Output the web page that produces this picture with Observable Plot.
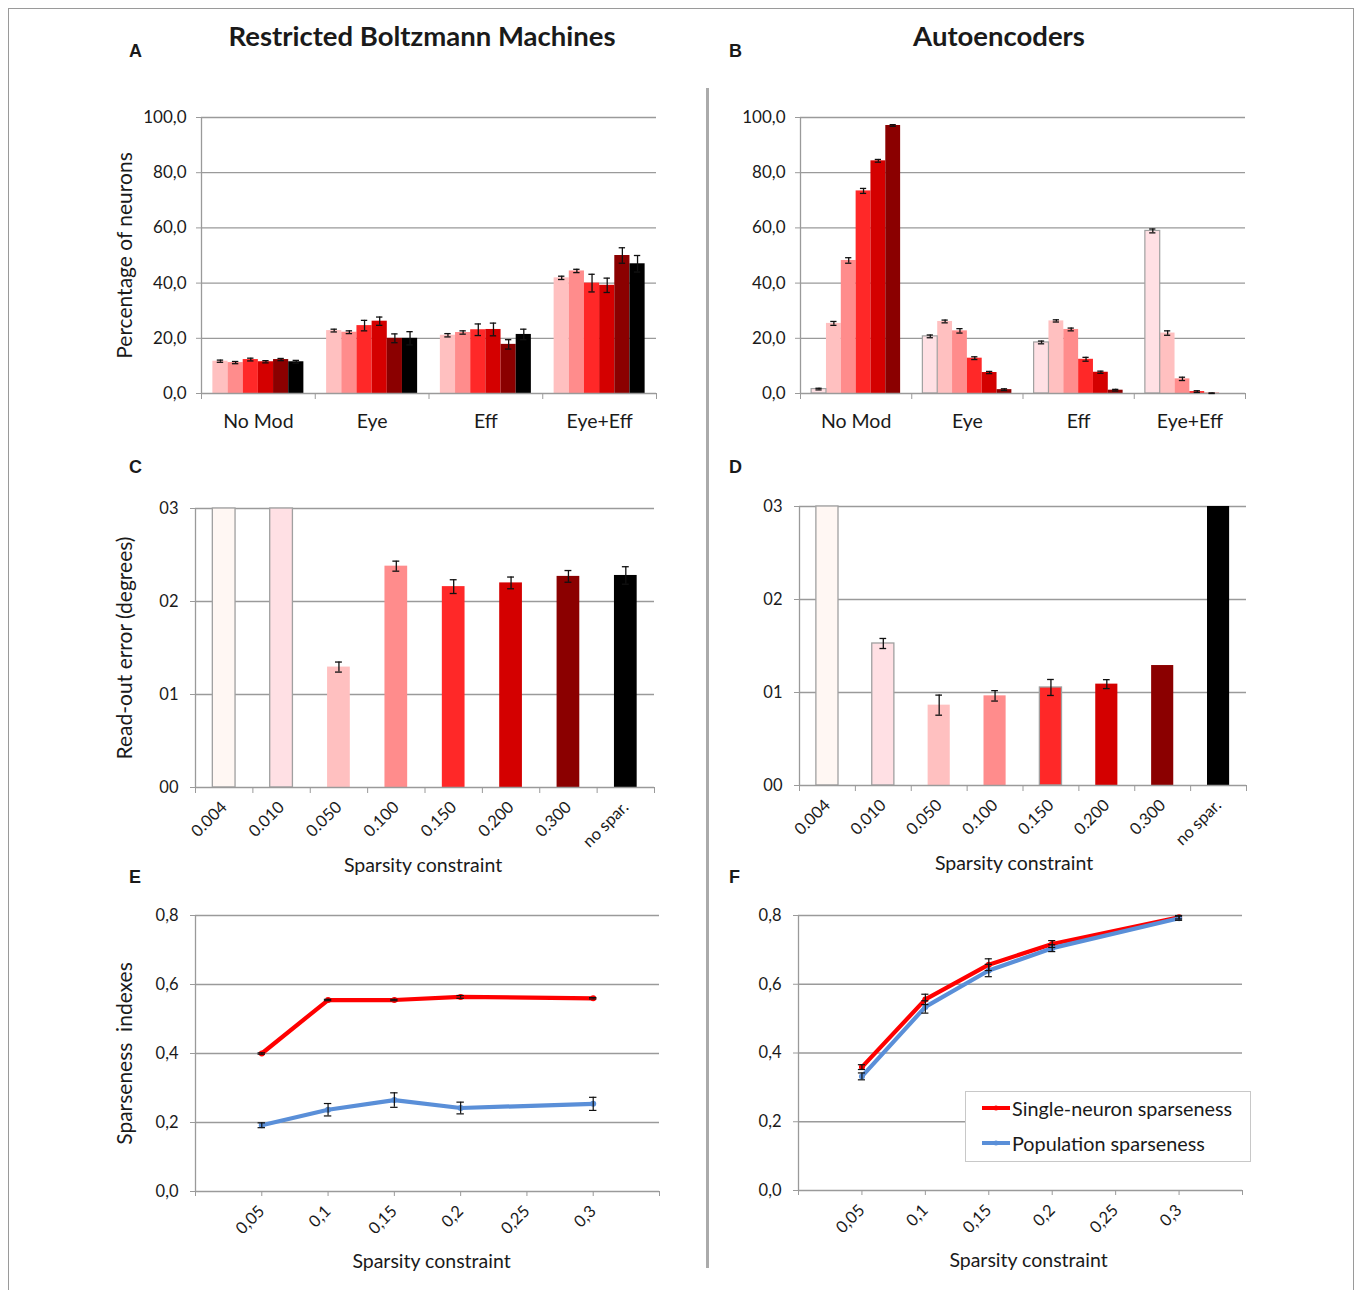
<!DOCTYPE html>
<html><head><meta charset="utf-8">
<script src="https://cdn.jsdelivr.net/npm/d3@7"></script>
<script src="https://cdn.jsdelivr.net/npm/@observablehq/plot@0.6"></script>
<style>
body{margin:0;background:#fff;}
#page{position:relative;width:1360px;height:1290px;overflow:hidden;font-family:Lato,sans-serif;color:#1a1a1a;}
.abs{position:absolute;}
.title{font-weight:700;font-size:27.5px;transform:translateX(-50%);white-space:nowrap;line-height:1;}
.letter{font-family:"Liberation Sans",Arial,sans-serif;font-weight:700;font-size:18px;line-height:1;}
.legend{background:#fff;border:1px solid #c8c8c8;box-sizing:border-box;}
.legrow{position:absolute;left:16px;display:flex;align-items:center;font-size:19.8px;white-space:nowrap;}
</style></head><body><div id="page"></div>
<script>
// ---------- data ----------
const groups = ["No Mod", "Eye", "Eff", "Eye+Eff"];
const sparsity = ["0.004", "0.010", "0.050", "0.100", "0.150", "0.200", "0.300", "no spar."];
const sparsityColors = ["#FFF7F3", "#FFE0E4", "#FFC0C0", "#FF8C8C", "#FF2828", "#D40000", "#8B0000", "#000000"];
const rbmSeries = ["0.050", "0.100", "0.150", "0.200", "0.300", "no spar."];
const aeSeries = ["0.010", "0.050", "0.100", "0.150", "0.200", "0.300"];

// Panel A (RBM): percentage of neurons, per group, one value per series
const rbmNoMod = [11.7, 11.2, 12.3, 11.5, 12.3, 11.5];
const rbmNoModErr = [0.4, 0.4, 0.5, 0.4, 0.4, 0.5];
const rbmEye = [22.8, 22.2, 24.6, 26.2, 20.0, 20.0];
const rbmEyeErr = [0.5, 0.5, 1.9, 1.5, 1.6, 2.4];
const rbmEff = [21.1, 22.1, 23.1, 23.2, 17.8, 21.4];
const rbmEffErr = [0.6, 0.6, 2.1, 2.3, 1.7, 1.9];
const rbmEyeEff = [41.9, 44.4, 40.0, 39.2, 50.0, 47.0];
const rbmEyeEffErr = [0.6, 0.6, 3.2, 2.6, 2.8, 3.0];

// Panel B (Autoencoders)
const aeNoMod = [1.6, 25.4, 48.2, 73.4, 84.3, 97.1];
const aeNoModErr = [0.3, 0.7, 1.0, 0.9, 0.5, 0.3];
const aeEye = [20.7, 26.1, 22.7, 12.8, 7.6, 1.4];
const aeEyeErr = [0.5, 0.5, 0.8, 0.5, 0.4, 0.3];
const aeEff = [18.5, 26.3, 23.2, 12.4, 7.7, 1.2];
const aeEffErr = [0.5, 0.4, 0.5, 0.7, 0.4, 0.3];
const aeEyeEff = [58.9, 21.9, 5.3, 0.7, 0.1, 0.0];
const aeEyeEffErr = [0.7, 0.8, 0.6, 0.3, 0.1, 0.0];

// Panels C and D: read-out error (degrees), 0.004 / 0.010 / no spar. bars run off the top of the axis
const rbmReadout = [3.0, 3.0, 1.295, 2.38, 2.16, 2.20, 2.27, 2.28];
const rbmReadoutErr = [0, 0, 0.054, 0.054, 0.074, 0.063, 0.063, 0.094];
const aeReadout = [3.0, 1.527, 0.864, 0.964, 1.054, 1.09, 1.29, 3.0];
const aeReadoutErr = [0, 0.054, 0.108, 0.056, 0.086, 0.048, 0, 0];
const rbmOutlined = ["0.004", "0.010"];
const aeOutlined = ["0.004", "0.010", "0.150"];

// Panels E and F: sparseness indexes
const sparsityX = [0.05, 0.1, 0.15, 0.2, 0.3];
const sparsityTicks = [0.05, 0.1, 0.15, 0.2, 0.25, 0.3];
const rbmSingle = [0.400, 0.555, 0.555, 0.564, 0.560];
const rbmSingleErr = [0.002, 0.002, 0.002, 0.004, 0.002];
const rbmPopulation = [0.192, 0.237, 0.265, 0.242, 0.254];
const rbmPopulationErr = [0.007, 0.018, 0.021, 0.017, 0.019];
const aeSingle = [0.359, 0.556, 0.657, 0.717, 0.795];
const aeSingleErr = [0.007, 0.015, 0.017, 0.010, 0.005];
const aePopulation = [0.332, 0.534, 0.640, 0.705, 0.792];
const aePopulationErr = [0.010, 0.018, 0.018, 0.010, 0.006];

const singleColor = "#FF0000";
const populationColor = "#5A8FD8";

// ---------- layout helpers ----------
const page = document.getElementById("page");
function place(el, left, top) {
  el.style.position = "absolute"; el.style.left = left + "px"; el.style.top = top + "px";
  page.appendChild(el); return el;
}
function html(cls, text, left, top) {
  const d = document.createElement("div"); d.className = cls; d.textContent = text;
  return place(d, left, top);
}
const GRID = "#9a9a9a";
const baseStyle = {fontFamily: "Lato, sans-serif", color: "#1a1a1a", background: "transparent", overflow: "visible"};
const comma = (d, n) => d.toFixed(n).replace(".", ",");
const colorOf = s => sparsityColors[sparsity.indexOf(s)];
const yTitle = (label, dx) => Plot.text([label], {frameAnchor: "left", textAnchor: "middle", lineAnchor: "middle", rotate: -90, dx, fontSize: 21});
const xTitle = (dy, dx) => Plot.text(["Sparsity constraint"], {frameAnchor: "bottom", textAnchor: "middle", lineAnchor: "middle", dy, dx, fontSize: 19.5});

// grouped bars (panels A and B)
const PAD = 0.1, BW = 0.8 / 6;
function groupedPanel(o) {
  const rows = groups.flatMap((g, gi) => o.series.map((s, si) => ({gi, si, s, v: o.values[gi][si], e: o.errors[gi][si]})));
  const x1 = d => d.gi + PAD + d.si * BW, x2 = d => d.gi + PAD + (d.si + 1) * BW, xc = d => d.gi + PAD + (d.si + 0.5) * BW;
  const withErr = rows.filter(d => d.e > 0);
  const cap = 0.028;
  const marks = [
    Plot.ruleY(d3.range(20, 101, 20), {stroke: GRID, strokeWidth: 1.3}),
    Plot.rect(rows, {x1, x2, y1: 0, y2: "v", fill: "s"}),
    Plot.rect(rows.filter(d => o.outlined.includes(d.s)), {x1, x2, y1: 0, y2: "v", fill: "none", stroke: "#a0a0a0", strokeWidth: 1.2}),
    Plot.ruleY([0], {stroke: GRID, strokeWidth: 1.3}),
    Plot.ruleX([0], {stroke: GRID, strokeWidth: 1.3}),
    Plot.ruleX(withErr, {x: xc, y1: d => d.v - d.e, y2: d => d.v + d.e, stroke: "#111", strokeWidth: 1.3}),
    Plot.ruleY(withErr, {y: d => d.v + d.e, x1: d => xc(d) - cap, x2: d => xc(d) + cap, stroke: "#111", strokeWidth: 1.3}),
    Plot.ruleY(withErr, {y: d => d.v - d.e, x1: d => xc(d) - cap, x2: d => xc(d) + cap, stroke: "#111", strokeWidth: 1.3}),
    Plot.axisY({ticks: d3.range(0, 101, 20), tickFormat: d => comma(d, 1), tickSize: 5, tickPadding: 10, stroke: GRID, fontSize: 17, label: null}),
    Plot.axisX({ticks: [0, 1, 2, 3, 4], tickSize: 6, tickFormat: () => "", stroke: GRID, label: null}),
    Plot.axisX({ticks: [0.5, 1.5, 2.5, 3.5], tickSize: 0, tickPadding: 21, tickFormat: d => groups[Math.floor(d)], fontSize: 19.5, label: null})
  ];
  if (o.yLabel) marks.push(yTitle(o.yLabel, o.yLabelDx));
  const svg = Plot.plot({
    width: o.width, height: o.height,
    marginLeft: o.m[0], marginRight: o.m[1], marginTop: o.m[2], marginBottom: o.m[3],
    x: {domain: [0, 4]}, y: {domain: [0, 100]},
    color: {domain: o.series, range: o.series.map(colorOf)},
    style: baseStyle, marks
  });
  place(svg, o.left, o.top);
}

// single category bars (panels C and D)
function readoutPanel(o) {
  const rows = sparsity.map((s, i) => ({i, s, v: o.values[i], e: o.errors[i]}));
  const half = 0.198;
  const x1 = d => d.i + 0.5 - half, x2 = d => d.i + 0.5 + half, xc = d => d.i + 0.5;
  const withErr = rows.filter(d => d.e > 0);
  const cap = 0.06;
  const marks = [
    Plot.ruleY([1, 2, 3], {stroke: GRID, strokeWidth: 1.3}),
    Plot.rect(rows, {x1, x2, y1: 0, y2: "v", fill: "s", clip: true}),
    Plot.rect(rows.filter(d => o.outlined.includes(d.s)), {x1, x2, y1: 0, y2: "v", fill: "none", stroke: "#a0a0a0", strokeWidth: 1.3}),
    Plot.ruleY([0], {stroke: GRID, strokeWidth: 1.3}),
    Plot.ruleX([0], {stroke: GRID, strokeWidth: 1.3}),
    Plot.ruleX(withErr, {x: xc, y1: d => d.v - d.e, y2: d => d.v + d.e, stroke: "#111", strokeWidth: 1.3}),
    Plot.ruleY(withErr, {y: d => d.v + d.e, x1: d => xc(d) - cap, x2: d => xc(d) + cap, stroke: "#111", strokeWidth: 1.3}),
    Plot.ruleY(withErr, {y: d => d.v - d.e, x1: d => xc(d) - cap, x2: d => xc(d) + cap, stroke: "#111", strokeWidth: 1.3}),
    Plot.axisY({ticks: [0, 1, 2, 3], tickFormat: d => "0" + d, tickSize: 5, tickPadding: 12, stroke: GRID, fontSize: 16.5, label: null}),
    Plot.axisX({ticks: d3.range(0, 9), tickSize: 6, tickFormat: () => "", stroke: GRID, label: null}),
    Plot.axisX({ticks: d3.range(8).map(i => i + 0.5), tickSize: 0, tickPadding: 17, tickRotate: -45, tickFormat: d => sparsity[Math.floor(d)], fontSize: 16.5, label: null}),
    xTitle(78, o.xLabelDx)
  ];
  if (o.yLabel) marks.push(yTitle(o.yLabel, o.yLabelDx));
  const svg = Plot.plot({
    width: o.width, height: o.height,
    marginLeft: o.m[0], marginRight: o.m[1], marginTop: o.m[2], marginBottom: o.m[3],
    x: {domain: [0, 8]}, y: {domain: [0, 3]},
    color: {domain: sparsity, range: sparsityColors},
    style: baseStyle, marks
  });
  place(svg, o.left, o.top);
}

// sparseness lines (panels E and F)
function sparsenessPanel(o) {
  const lines = [
    {name: "single", color: singleColor, v: o.single, e: o.singleErr},
    {name: "population", color: populationColor, v: o.population, e: o.populationErr}
  ];
  const pts = lines.flatMap(l => sparsityX.map((x, i) => ({name: l.name, color: l.color, x, v: l.v[i], e: l.e[i]})));
  const cap = 0.0028;
  const marks = [
    Plot.ruleY([0.2, 0.4, 0.6, 0.8], {stroke: GRID, strokeWidth: 1.3}),
    Plot.ruleY([0], {stroke: GRID, strokeWidth: 1.3}),
    Plot.ruleX([0], {stroke: GRID, strokeWidth: 1.3}),
    Plot.axisY({ticks: [0, 0.2, 0.4, 0.6, 0.8], tickFormat: d => comma(d, 1), tickSize: 5, tickPadding: 12, stroke: GRID, fontSize: 16.5, label: null}),
    Plot.axisX({ticks: d3.range(8).map(i => i * 0.05), tickSize: 5, tickFormat: () => "", stroke: GRID, label: null}),
    Plot.axisX({ticks: sparsityTicks, tickSize: 0, tickPadding: 17, tickRotate: -45, tickFormat: d => String(+d.toFixed(2)).replace(".", ","), fontSize: 16.5, label: null}),
    ...lines.map(l => Plot.line(pts.filter(d => d.name === l.name), {x: "x", y: "v", stroke: l.color, strokeWidth: 4.2, strokeLinejoin: "round"})),
    ...lines.map(l => Plot.dot(pts.filter(d => d.name === l.name), {x: "x", y: "v", r: 3, fill: l.color})),
    Plot.ruleX(pts, {x: "x", y1: d => d.v - d.e, y2: d => d.v + d.e, stroke: "#111", strokeWidth: 1.2}),
    Plot.ruleY(pts, {y: d => d.v + d.e, x1: d => d.x - cap, x2: d => d.x + cap, stroke: "#111", strokeWidth: 1.2}),
    Plot.ruleY(pts, {y: d => d.v - d.e, x1: d => d.x - cap, x2: d => d.x + cap, stroke: "#111", strokeWidth: 1.2}),
    xTitle(70, o.xLabelDx)
  ];
  if (o.yLabel) marks.push(yTitle(o.yLabel, o.yLabelDx));
  const svg = Plot.plot({
    width: o.width, height: o.height,
    marginLeft: o.m[0], marginRight: o.m[1], marginTop: o.m[2], marginBottom: o.m[3],
    x: {domain: [0, 0.35]}, y: {domain: [0, 0.8]},
    style: baseStyle, marks
  });
  place(svg, o.left, o.top);
}

// ---------- frame, separator, titles ----------
const border = document.createElement("div");
border.style.cssText = "width:1346px;height:1300px;border:1px solid #9a9a9a;box-sizing:border-box;";
place(border, 8, 8);
const sep = document.createElement("div");
sep.style.cssText = "width:3px;height:1180px;background:#ababab;";
place(sep, 706, 88);

html("title", "Restricted Boltzmann Machines", 422, 22);
html("title", "Autoencoders", 999, 22);
[["A", 129, 42], ["B", 729, 42], ["C", 129, 458], ["D", 729, 458], ["E", 129, 868], ["F", 729, 868]]
  .forEach(([t, x, y]) => html("letter", t, x, y));

// ---------- panels ----------
groupedPanel({series: rbmSeries, outlined: [],
  values: [rbmNoMod, rbmEye, rbmEff, rbmEyeEff], errors: [rbmNoModErr, rbmEyeErr, rbmEffErr, rbmEyeEffErr],
  left: 100, top: 95, width: 580, height: 350, m: [101, 24, 22, 52],
  yLabel: "Percentage of neurons", yLabelDx: -76});
groupedPanel({series: aeSeries, outlined: ["0.010"],
  values: [aeNoMod, aeEye, aeEff, aeEyeEff], errors: [aeNoModErr, aeEyeErr, aeEffErr, aeEyeEffErr],
  left: 720, top: 95, width: 560, height: 350, m: [80, 35, 22, 52]});

readoutPanel({values: rbmReadout, errors: rbmReadoutErr, outlined: rbmOutlined,
  left: 100, top: 480, width: 580, height: 420, m: [95, 26, 28, 113],
  yLabel: "Read-out error (degrees)", yLabelDx: -70, xLabelDx: -2});
readoutPanel({values: aeReadout, errors: aeReadoutErr, outlined: aeOutlined,
  left: 720, top: 480, width: 560, height: 420, m: [79, 34, 26, 115], xLabelDx: -9});

sparsenessPanel({single: rbmSingle, singleErr: rbmSingleErr, population: rbmPopulation, populationErr: rbmPopulationErr,
  left: 100, top: 890, width: 580, height: 395, m: [95, 21, 25, 94],
  yLabel: "Sparseness  indexes", yLabelDx: -70, xLabelDx: 4});
sparsenessPanel({single: aeSingle, singleErr: aeSingleErr, population: aePopulation, populationErr: aePopulationErr,
  left: 720, top: 890, width: 560, height: 395, m: [78, 38, 25, 95], xLabelDx: 8});

// ---------- legend (panel F) ----------
const legend = document.createElement("div");
legend.className = "legend"; legend.style.width = "286px"; legend.style.height = "71px";
[["Single-neuron sparseness", singleColor, 4], ["Population sparseness", populationColor, 39]].forEach(([label, color, top]) => {
  const row = document.createElement("div"); row.className = "legrow"; row.style.top = top + "px";
  row.innerHTML = `<svg width="28" height="10" style="margin-right:2px"><line x1="0" y1="5" x2="28" y2="5" stroke="${color}" stroke-width="4"/><circle cx="14" cy="5" r="2.5" fill="${color}"/></svg><span>${label}</span>`;
  legend.appendChild(row);
});
place(legend, 965, 1091);
</script></body></html>
